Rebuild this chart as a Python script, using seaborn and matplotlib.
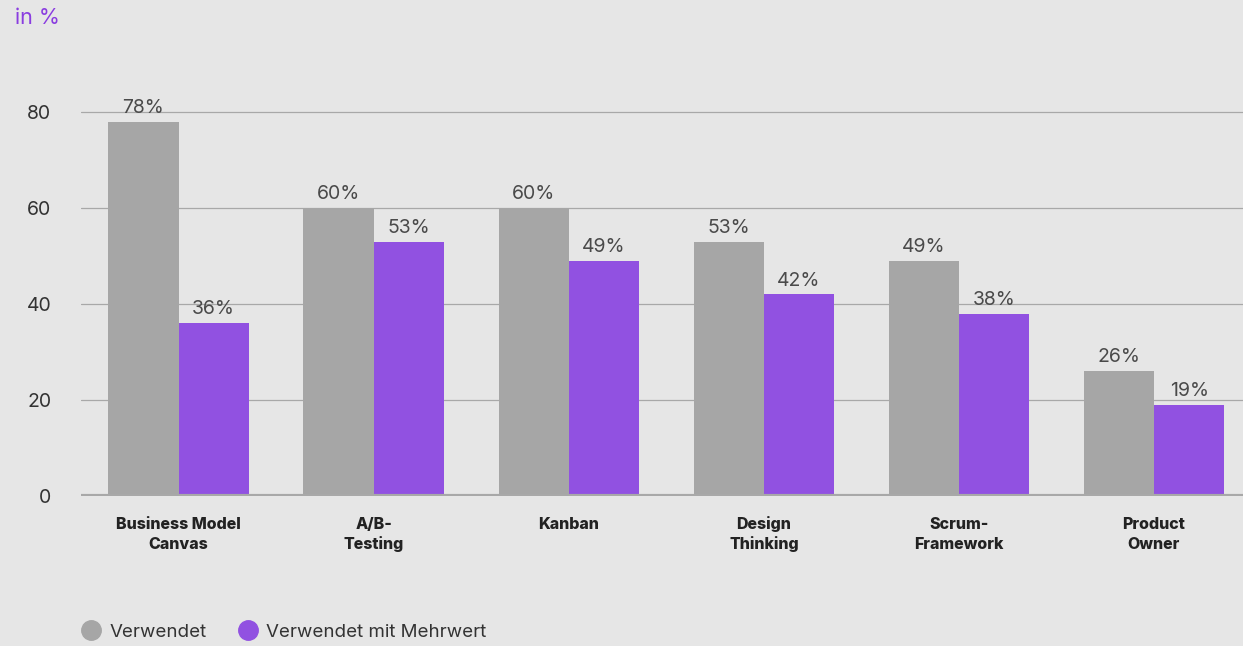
import matplotlib
matplotlib.use("Agg")
import matplotlib.pyplot as plt
import matplotlib.transforms as mtransforms
import seaborn as sns
import pandas as pd
from matplotlib.lines import Line2D

# Methoden und Anteile in Prozent
categories = ["Business Model\nCanvas", "A/B-\nTesting", "Kanban",
              "Design\nThinking", "Scrum-\nFramework", "Product\nOwner"]
used = [78, 60, 60, 53, 49, 26]
used_value = [36, 53, 49, 42, 38, 19]
series_names = ["Verwendet", "Verwendet mit Mehrwert"]
y_ticks = [0, 20, 40, 60, 80]

bg = "#e6e6e6"
grey = "#a6a6a6"
purple = "#9151e1"
text_col = "#333333"

df = pd.DataFrame({
    "Methode": categories * 2,
    "Serie": [series_names[0]] * len(categories) + [series_names[1]] * len(categories),
    "Wert": used + used_value,
})

sns.set_theme(style="white")
plt.rcParams["font.family"] = ["Inter", "DejaVu Sans"]

fig = plt.figure(figsize=(12.43, 6.46), dpi=100, facecolor=bg)
ax = fig.add_axes([81 / 1243, 150 / 646, 1 - 81 / 1243, 408 / 646])
ax.set_facecolor(bg)

sns.barplot(data=df, x="Methode", y="Wert", hue="Serie", hue_order=series_names,
            palette=[grey, purple], width=0.72, saturation=1, ax=ax,
            legend=False, zorder=3, linewidth=0, edgecolor="none")

ax.set_xlim(-0.5, 5.456)
ax.set_ylim(0, 85)
ax.set_yticks(y_ticks)
ax.set_yticklabels([str(t) for t in y_ticks], fontsize=14, color=text_col)
ax.tick_params(axis="y", length=0, pad=21.5)
ax.tick_params(axis="x", length=0, labelbottom=False)
ax.set_xlabel("")
ax.set_ylabel("")

# Kategorienamen zeilenweise unter den Balkengruppen, auf gemeinsamer Grundlinie
trans = mtransforms.blended_transform_factory(ax.transData, fig.transFigure)
for i, name in enumerate(categories):
    for j, line in enumerate(name.split("\n")):
        y_px = 529 + 20 * j
        ax.text(i, 1 - y_px / 646, line, transform=trans, ha="center", va="baseline",
                fontsize=11.5, fontweight="heavy", color="#222222")

for y in y_ticks[1:]:
    ax.axhline(y, color="#a8a8a8", lw=0.9, zorder=1)
ax.axhline(0, color="#a8a8a8", lw=3, zorder=4)

for s in ax.spines.values():
    s.set_visible(False)

for container in ax.containers:
    labels = [f"{int(round(b.get_height()))}%" for b in container]
    ax.bar_label(container, labels=labels, padding=3.5, fontsize=14, color="#4a4a4a")

fig.text(15 / 1243, 1 - 18 / 646, "in %", color="#8a3de0", fontsize=15.5, va="center", ha="left")

handles = [Line2D([0], [0], marker="o", linestyle="", markersize=14,
                  markerfacecolor=c, markeredgecolor=c) for c in (grey, purple)]
fig.legend(handles, series_names, loc="center left", bbox_to_anchor=(55 / 1243, 1 - 632 / 646),
           ncol=2, frameon=False, fontsize=13.5, handletextpad=0.0, columnspacing=1.2,
           labelcolor=text_col)

fig.savefig("out.png", dpi=100, facecolor=bg)
